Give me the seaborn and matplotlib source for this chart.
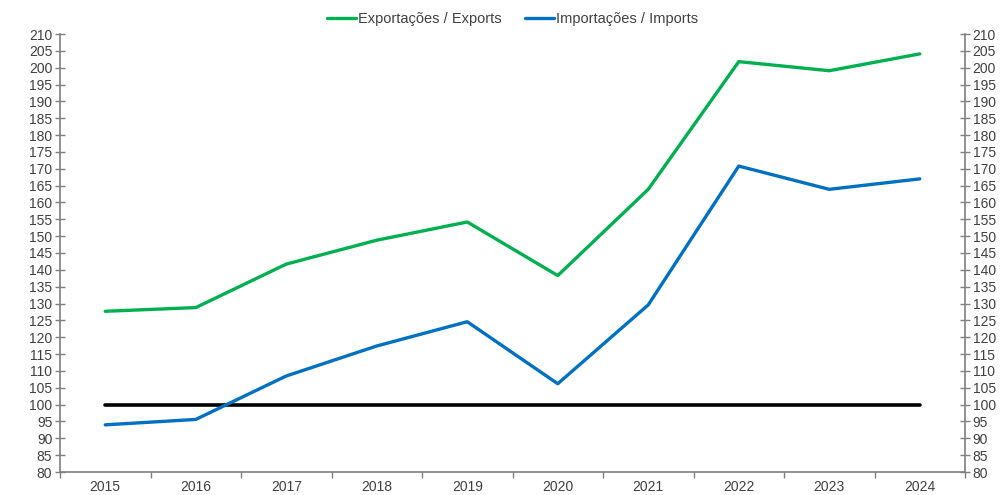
import matplotlib
matplotlib.use("Agg")
import matplotlib.pyplot as plt
import seaborn as sns
import pandas as pd
from matplotlib.ticker import FixedLocator, NullFormatter, FixedFormatter

years = ["2015", "2016", "2017", "2018", "2019", "2020", "2021", "2022", "2023", "2024"]
exports = [127.7, 128.8, 141.7, 148.8, 154.2, 138.3, 163.9, 201.8, 199.1, 204.1]
imports = [94.0, 95.6, 108.5, 117.4, 124.6, 106.2, 129.6, 170.8, 163.9, 167.0]
baseline = [100, 100, 100, 100, 100, 100, 100, 100, 100, 100]
series_names = ["Exportações / Exports", "Importações / Imports"]
y_ticks = list(range(80, 211, 5))

sns.set_theme(style="white")
plt.rcParams['font.family'] = ['Liberation Sans', 'DejaVu Sans']

df = pd.DataFrame({
    "year": years * 2,
    "value": exports + imports,
    "series": [series_names[0]] * len(years) + [series_names[1]] * len(years),
})
df_base = pd.DataFrame({"year": years, "value": baseline})

fig = plt.figure(figsize=(10.03, 4.95), dpi=100)
ax = fig.add_axes([60 / 1003, 23 / 495, 905 / 1003, 438 / 495])

sns.lineplot(data=df_base, x="year", y="value", color="black", linewidth=2.6,
             ax=ax, legend=False, sort=False)
sns.lineplot(data=df, x="year", y="value", hue="series", sort=False,
             palette={series_names[0]: "#00B050", series_names[1]: "#0070C0"},
             linewidth=2.4, ax=ax)

ax.set_xlim(-0.5, len(years) - 0.5)
ax.set_ylim(80, 210)
ax.set_xlabel("")
ax.set_ylabel("")

# x axis: tick marks at category boundaries, labels at centers
ax.xaxis.set_major_locator(FixedLocator([i - 0.5 for i in range(len(years) + 1)]))
ax.xaxis.set_major_formatter(NullFormatter())
ax.xaxis.set_minor_locator(FixedLocator(list(range(len(years)))))
ax.xaxis.set_minor_formatter(FixedFormatter(years))
ax.tick_params(axis="x", which="major", direction="out", length=4, width=1, color="#7f7f7f", bottom=True)
ax.tick_params(axis="x", which="minor", length=0, labelsize=10, labelcolor="#404040", pad=6, bottom=True)

ax.set_yticks(y_ticks)
ax.tick_params(axis="y", which="major", direction="inout", length=7, width=1, color="#7f7f7f",
               left=True, right=True, labelleft=True, labelright=True,
               labelsize=10, labelcolor="#404040", pad=2)

for side in ["left", "right", "bottom"]:
    ax.spines[side].set_visible(True)
    ax.spines[side].set_color("#7f7f7f")
    ax.spines[side].set_linewidth(1.2)
ax.spines["top"].set_visible(False)

leg = ax.legend(loc="lower center", bbox_to_anchor=(0.5, 1.004), ncol=2, frameon=False,
                fontsize=10.5, handlelength=2.0, handletextpad=0.1, columnspacing=1.6,
                borderaxespad=0)
for t in leg.get_texts():
    t.set_color("#404040")

fig.savefig("out.png", dpi=100)
